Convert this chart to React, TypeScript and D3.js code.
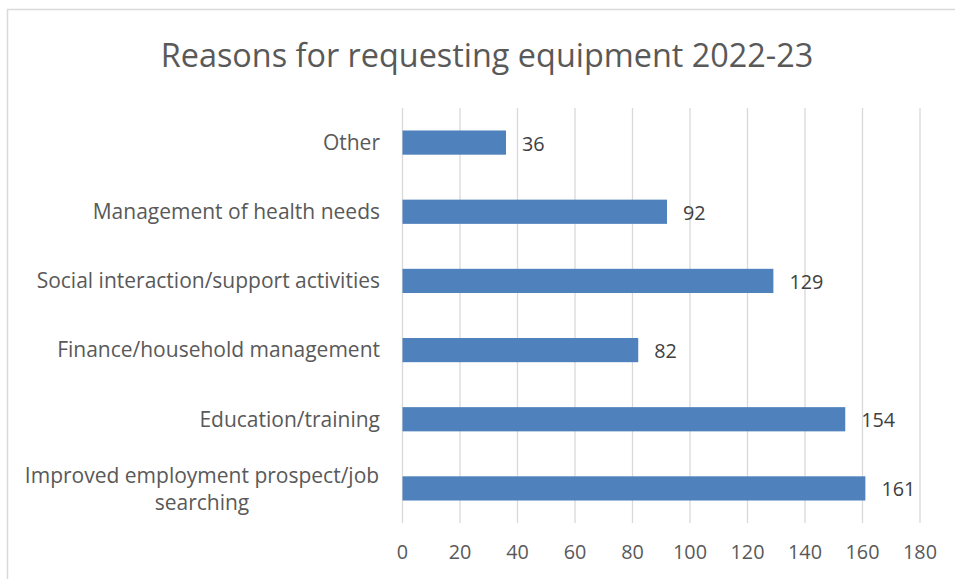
import React from "react";
import * as d3 from "d3";

const categories = [
  "Other",
  "Management of health needs",
  "Social interaction/support activities",
  "Finance/household management",
  "Education/training",
  "Improved employment prospect/job searching",
];
const labelLines: string[][] = [
  ["Other"],
  ["Management of health needs"],
  ["Social interaction/support activities"],
  ["Finance/household management"],
  ["Education/training"],
  ["Improved employment prospect/job", "searching"],
];
const values = [36, 92, 129, 82, 154, 161];
const xTicks = [0, 20, 40, 60, 80, 100, 120, 140, 160, 180];
const title = "Reasons for requesting equipment 2022-23";

const W = 955;
const H = 579;
const FONT = "'Open Sans', 'Noto Sans', sans-serif";

export default function App() {
  const x = d3.scaleLinear().domain([0, 180]).range([402.5, 920]);
  const y = d3.scaleBand().domain(categories).range([108, 523]).paddingInner(0.65).paddingOuter(0.325);
  const bw = y.bandwidth();
  return (
    <svg width={W} height={H} style={{ position: "absolute", left: 0, top: 0, display: "block" }}>
      <rect x={0} y={0} width={W} height={H} fill="#ffffff" />
      <rect x={7.5} y={9.5} width={W + 10} height={H + 10} fill="none" stroke="#d9d9d9" strokeWidth={1.5} />
      <text x={487} y={67} textAnchor="middle" fontFamily={FONT} fontSize={32.4} fill="#595959">
        {title}
      </text>
      {xTicks.map((t) => (
        <line key={t} x1={x(t)} x2={x(t)} y1={108} y2={523} stroke="#d9d9d9" strokeWidth={1.3} />
      ))}
      {xTicks.map((t) => (
        <text key={"l" + t} x={x(t)} y={552} dy="0.35em" textAnchor="middle" fontFamily={FONT} fontSize={19.8} fill="#595959">
          {t}
        </text>
      ))}
      {categories.map((c, i) => {
        const cy = (y(c) as number) + bw / 2;
        const lines = labelLines[i];
        const lh = 27;
        const blockX = 380;
        if (lines.length === 1) {
          return (
            <text key={"c" + i} x={blockX} y={cy} dy="0.35em" textAnchor="end" fontFamily={FONT} fontSize={21} fill="#595959">
              {lines[0]}
            </text>
          );
        }
        return (
          <text key={"c" + i} textAnchor="middle" fontFamily={FONT} fontSize={21} fill="#595959">
            {lines.map((ln, k) => (
              <tspan key={k} x={202} y={cy + (k - (lines.length - 1) / 2) * lh + 1} dy="0.35em">
                {ln}
              </tspan>
            ))}
          </text>
        );
      })}
      {categories.map((c, i) => (
        <rect key={"b" + i} x={x(0)} y={y(c)} width={x(values[i]) - x(0)} height={bw} fill="#4f81bd" />
      ))}
      {categories.map((c, i) => (
        <text
          key={"v" + i}
          x={x(values[i]) + 16}
          y={(y(c) as number) + bw / 2 + 1}
          dy="0.35em"
          fontFamily={FONT}
          fontSize={19.8}
          fill="#404040"
        >
          {values[i]}
        </text>
      ))}
    </svg>
  );
}
